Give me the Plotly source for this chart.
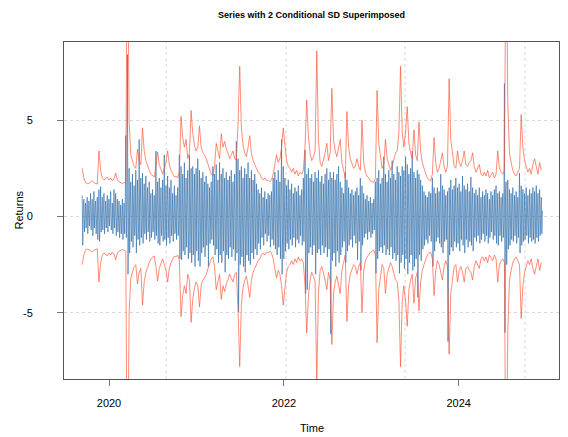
import datetime as dt
import plotly.graph_objects as go

# ---------------- data (weekly) ----------------
start_date = dt.date(2019, 9, 11)

# 2 x conditional SD (upper band; lower band is its mirror)
sd2 = [
    2.5, 2.0, 1.75, 1.7, 1.72, 1.8, 1.85, 1.75, 1.7, 1.68,
    3.4, 2.4, 2.0, 1.9, 1.95, 2.05, 1.9, 2.0, 1.85, 1.95,
    2.25, 1.9, 1.8, 1.75, 1.72, 1.75, 1.8, 16.0, 5.0, 3.2,
    2.9, 2.6, 2.5, 3.5, 2.9, 2.7, 4.6, 3.4, 2.9, 2.6,
    2.4, 2.2, 2.1, 2.05, 2.6, 3.35, 2.7, 2.4, 2.2, 2.5,
    2.8, 3.4, 2.7, 2.4, 2.2, 2.05, 2.1, 2.0, 2.3, 5.2,
    4.1, 3.6, 4.0, 3.0, 3.3, 5.5, 4.3, 3.7, 3.4, 3.6,
    4.7, 3.6, 3.3, 3.2, 3.0, 2.7, 2.4, 2.2, 2.1, 2.6,
    3.8, 3.4, 3.0, 4.3, 3.6, 3.9, 3.5, 3.3, 3.0, 3.2,
    3.4, 3.0, 2.9, 4.8, 7.8, 4.6, 3.7, 3.3, 3.1, 3.6,
    4.2, 3.3, 2.9, 2.7, 2.5, 2.3, 2.2, 2.0, 1.9, 2.0,
    1.85, 1.9, 1.8, 1.9, 2.2, 2.8, 3.2, 2.8, 3.0, 3.6,
    4.6, 3.7, 2.9, 2.6, 2.5, 2.3, 2.5, 2.2, 2.4, 2.1,
    2.3, 2.2, 2.4, 3.6, 6.05, 4.2, 3.3, 2.9, 3.1, 3.4,
    8.6, 4.0, 2.8, 2.6, 2.9, 3.3, 3.8, 2.9, 3.3, 6.65,
    4.0, 3.4, 3.1, 3.6, 4.0, 2.8, 2.3, 2.0, 5.45, 3.6,
    3.0, 2.7, 2.5, 2.6, 3.0, 2.6, 2.4, 5.0, 2.8, 2.3,
    2.1, 2.0, 1.85, 1.8, 1.75, 2.0, 6.55, 3.8, 3.0, 2.5,
    2.7, 4.0, 3.0, 2.7, 2.4, 2.6, 2.9, 3.3, 3.4, 4.3,
    7.8, 4.4, 3.6, 4.4, 5.7, 3.8, 3.3, 3.0, 4.5, 3.2,
    2.9, 4.9, 3.4, 2.8, 2.5, 2.2, 2.0, 1.9, 1.85, 2.2,
    4.1, 2.8, 2.3, 2.5, 2.9, 3.3, 2.6, 2.3, 2.6, 7.15,
    4.0, 3.3, 2.6, 2.5, 3.4, 2.8, 2.6, 2.9, 3.4, 2.7,
    2.6, 2.8, 2.9, 3.3, 2.6, 2.3, 2.5, 2.7, 2.2, 2.1,
    2.3, 2.1, 2.4, 2.0, 2.15, 2.3, 2.0, 2.2, 3.4, 2.5,
    2.3, 2.2, 2.4, 16.0, 6.0, 3.3, 2.8, 2.4, 2.2, 2.1,
    2.3, 2.5, 5.3, 3.6, 2.9, 2.6, 2.3, 2.5, 2.2, 2.7,
    3.0, 2.6, 2.2, 2.8, 2.4,
]

# weekly high / low / typical value of the returns series
ret_hi = [
    1.1, 0.9, 0.7, 1.0, 0.8, 1.2, 0.9, 1.3, 0.8, 1.0,
    1.4, 1.55, 1.0, 1.2, 0.8, 1.1, 0.9, 1.3, 0.7, 1.4,
    1.2, 0.9, 0.8, 0.6, 0.9, 0.7, 4.2, 8.41, 2.5, 1.8,
    2.2, 1.6, 2.4, 1.9, 4.0, 2.0, 2.25, 1.7, 2.1, 1.5,
    1.8, 1.2, 1.4, 1.1, 3.4, 1.8, 2.0, 1.5, 1.9, 3.2,
    1.6, 2.1, 1.5, 1.9, 1.2, 1.6, 1.1, 1.5, 3.2, 2.6,
    2.2, 2.8, 2.0, 2.4, 3.2, 2.5, 2.6, 2.2, 2.5, 3.0,
    2.4, 2.0, 2.3, 1.8, 2.1, 1.7, 1.5, 1.8, 2.6, 2.2,
    2.7, 1.9, 2.8, 2.2, 2.5, 2.0, 2.3, 1.9, 2.1, 2.4,
    1.8, 2.2, 3.9, 3.0, 2.4, 2.6, 2.0, 2.5, 2.2, 2.8,
    2.0, 2.4, 1.9, 2.2, 1.7, 1.4, 1.2, 1.5, 1.0, 1.3,
    0.9, 1.2, 1.1, 1.3, 2.0, 2.3, 1.9, 2.4, 1.8, 4.0,
    2.6, 2.0, 1.6, 1.9, 1.4, 1.7, 1.2, 1.5, 1.3, 1.6,
    1.1, 1.4, 2.0, 3.45, 2.2, 2.5, 2.0, 2.2, 1.8, 2.3,
    2.0, 2.4, 1.8, 2.1, 1.7, 2.2, 2.5, 1.9, 2.3, 2.0,
    2.3, 1.9, 2.2, 2.6, 1.8, 1.5, 1.2, 2.3, 1.9, 1.5,
    1.2, 1.4, 1.1, 1.3, 1.5, 1.1, 2.0, 1.6, 1.2, 0.9,
    1.1, 0.8, 1.0, 0.7, 0.9, 1.8, 2.0, 2.4, 1.7, 2.0,
    3.1, 2.2, 1.8, 2.4, 2.0, 2.9, 2.2, 1.9, 2.6, 2.3,
    2.1, 2.6, 2.4, 3.1, 2.7, 2.2, 2.5, 3.4, 2.3, 2.0,
    2.4, 2.2, 1.9, 1.6, 1.3, 1.1, 1.0, 1.3, 1.2, 2.0,
    1.5, 1.2, 1.5, 1.3, 2.2, 1.6, 1.4, 1.1, 1.3, 1.5,
    1.9, 1.4, 1.6, 2.0, 1.5, 1.7, 1.3, 2.1, 1.6, 1.4,
    1.7, 1.3, 2.05, 1.5, 1.2, 1.4, 1.1, 1.5, 1.0, 1.3,
    1.1, 1.4, 1.2, 0.9, 1.3, 1.1, 1.4, 1.6, 1.2, 1.3,
    1.0, 1.2, 6.9, 1.8, 1.9, 1.4, 1.2, 1.5, 1.1, 1.3,
    1.0, 2.25, 1.6, 1.4, 1.2, 1.5, 1.1, 1.4, 1.2, 1.5,
    1.3, 1.6, 1.2, 1.4, 1.0,
]

ret_lo = [
    -1.5, -0.8, -0.6, -0.9, -0.5, -0.7, -1.0, -0.6, -0.9, -1.2,
    -1.3, -0.8, -0.7, -0.9, -0.6, -0.8, -0.5, -0.7, -0.9, -0.6,
    -1.0, -0.8, -1.1, -0.9, -1.2, -0.9, -1.1, -3.0, -1.9, -1.3,
    -1.6, -1.0, -1.9, -1.2, -1.5, -1.1, -1.4, -0.9, -1.2, -0.8,
    -1.3, -1.1, -0.8, -1.2, -1.0, -1.4, -1.5, -1.0, -1.3, -1.2,
    -1.5, -1.1, -1.4, -1.0, -1.3, -0.9, -1.2, -1.0, -2.2, -2.25,
    -1.8, -2.0, -1.6, -2.2, -1.9, -2.4, -2.0, -2.6, -1.8, -2.3,
    -2.6, -1.9, -1.6, -2.1, -1.5, -2.6, -1.4, -1.2, -1.5, -2.0,
    -1.7, -2.4, -2.0, -2.4, -1.8, -2.9, -2.0, -2.2, -1.6, -2.1,
    -1.7, -2.3, -1.9, -4.95, -2.5, -2.1, -2.6, -2.9, -2.0, -2.3,
    -2.5, -1.9, -2.2, -1.7, -2.0, -1.4, -1.7, -1.1, -1.5, -0.9,
    -1.3, -1.0, -1.6, -1.2, -1.5, -1.7, -2.0, -1.6, -2.2, -3.0,
    -2.2, -1.8, -1.4, -1.7, -1.2, -1.5, -1.1, -1.6, -1.2, -1.4,
    -1.0, -1.5, -1.3, -4.0, -3.8, -1.9, -1.6, -2.0, -1.5, -3.0,
    -1.9, -1.7, -2.0, -1.5, -1.9, -1.6, -2.1, -1.7, -6.1, -2.3,
    -1.9, -2.6, -1.8, -2.4, -2.0, -1.6, -1.3, -2.4, -1.8, -1.5,
    -1.2, -1.6, -1.0, -1.4, -2.25, -1.3, -2.8, -1.5, -1.1, -0.9,
    -1.2, -0.8, -1.1, -0.9, -0.7, -2.95, -2.2, -1.8, -1.6, -1.9,
    -1.5, -2.0, -1.7, -2.0, -1.6, -2.2, -1.9, -2.3, -2.0, -2.95,
    -2.4, -2.0, -2.7, -2.2, -3.0, -2.4, -2.0, -2.8, -2.6, -2.2,
    -4.2, -2.0, -2.3, -1.7, -1.5, -1.2, -1.4, -1.0, -1.3, -2.6,
    -1.8, -1.3, -1.1, -1.4, -1.6, -1.9, -1.3, -1.2, -6.5, -2.0,
    -1.6, -1.8, -1.3, -1.6, -1.4, -1.8, -1.2, -1.5, -1.9, -1.2,
    -1.6, -1.3, -1.5, -1.8, -1.1, -1.3, -1.0, -1.4, -1.2, -0.9,
    -1.3, -1.0, -1.4, -1.1, -0.8, -1.2, -1.0, -1.4, -1.5, -1.0,
    -1.3, -1.1, -6.03, -2.5, -1.7, -1.5, -1.2, -1.3, -1.0, -1.4,
    -1.1, -1.9, -1.5, -1.3, -1.2, -1.0, -1.4, -1.1, -1.3, -1.2,
    -1.4, -1.1, -1.3, -1.0, -0.9,
]

ret_mid = [
    0.3, -0.2, 0.4, -0.3, 0.2, 0.5, -0.4, 0.3, -0.2, 0.4,
    -0.5, 0.3, 0.2, -0.3, 0.4, -0.2, 0.3, -0.4, 0.2, 0.5,
    -0.3, 0.2, -0.4, 0.3, -0.2, 0.4, 0.6, -0.8, 0.7, -0.5,
    0.6, -0.4, 0.5, -0.6, 0.7, -0.3, 0.5, -0.4, 0.6, -0.3,
    0.4, -0.5, 0.3, -0.4, 0.5, -0.3, 0.6, -0.4, 0.3, -0.5,
    0.4, -0.3, 0.5, -0.4, 0.3, -0.5, 0.4, -0.2, 0.7, -0.6,
    0.8, -0.5, 0.6, -0.7, 0.5, -0.8, 0.6, -0.5, 0.7, -0.6,
    0.5, -0.7, 0.6, -0.4, 0.5, -0.6, 0.4, -0.3, 0.6, -0.5,
    0.7, -0.5, 0.6, -0.8, 0.5, -0.6, 0.7, -0.4, 0.5, -0.6,
    0.4, -0.6, 0.8, -0.9, 0.6, -0.7, 0.5, -0.8, 0.6, -0.5,
    0.7, -0.5, 0.6, -0.4, 0.5, -0.3, 0.4, -0.3, 0.2, -0.4,
    0.3, -0.2, 0.4, -0.3, 0.5, -0.6, 0.4, -0.5, 0.6, -0.8,
    0.7, -0.5, 0.4, -0.5, 0.3, -0.4, 0.3, -0.4, 0.3, -0.5,
    0.3, -0.4, 0.5, -0.9, 0.8, -0.6, 0.5, -0.6, 0.4, -0.7,
    0.6, -0.5, 0.6, -0.4, 0.5, -0.5, 0.7, -0.4, 0.9, -0.6,
    0.5, -0.7, 0.6, -0.5, 0.6, -0.4, 0.3, -0.6, 0.5, -0.4,
    0.3, -0.4, 0.3, -0.3, 0.5, -0.3, 0.6, -0.4, 0.3, -0.2,
    0.3, -0.2, 0.3, -0.2, 0.2, -0.7, 0.6, -0.5, 0.4, -0.5,
    0.7, -0.5, 0.4, -0.6, 0.5, -0.7, 0.5, -0.6, 0.7, -0.8,
    0.6, -0.5, 0.7, -0.8, 0.7, -0.6, 0.5, -0.9, 0.6, -0.5,
    0.8, -0.5, 0.6, -0.4, 0.3, -0.3, 0.2, -0.3, 0.3, -0.6,
    0.4, -0.3, 0.4, -0.3, 0.5, -0.4, 0.3, -0.3, 0.9, -0.5,
    0.4, -0.4, 0.3, -0.5, 0.4, -0.4, 0.3, -0.5, 0.4, -0.3,
    0.4, -0.3, 0.5, -0.4, 0.3, -0.3, 0.2, -0.4, 0.3, -0.2,
    0.3, -0.3, 0.2, -0.3, 0.3, -0.2, 0.4, -0.3, 0.3, -0.4,
    0.3, -0.2, 1.2, -0.6, 0.5, -0.4, 0.3, -0.3, 0.2, -0.4,
    0.3, -0.5, 0.4, -0.3, 0.3, -0.2, 0.4, -0.3, 0.3, -0.4,
    0.3, -0.3, 0.4, -0.2, 0.3,
]

x_tick_dates = ["2020-01-01", "2022-01-01", "2024-01-01"]
x_tick_labels = ["2020", "2022", "2024"]
y_tick_vals = [-5, 0, 5]
y_tick_labels = ["-5", "0", "5"]
v_grid_dates = ["2020-08-27", "2022-01-10", "2023-05-22", "2024-10-04"]

# ---------------- build series ----------------
weeks = [dt.datetime(start_date.year, start_date.month, start_date.day) + dt.timedelta(days=7 * i)
         for i in range(len(sd2))]
ret_x, ret_y = [], []
for d, h, l, m in zip(weeks, ret_hi, ret_lo, ret_mid):
    ret_x += [d, d + dt.timedelta(days=2, hours=8), d + dt.timedelta(days=4, hours=16)]
    ret_y += [h, l, m]
upper = sd2
lower = [-v for v in sd2]

FONT = "Liberation Sans, Arial, sans-serif"
RED = "rgba(255,85,55,0.85)"
fig = go.Figure()
fig.add_trace(go.Scatter(x=ret_x, y=ret_y, mode="lines",
                         line=dict(color="rgba(45,108,168,0.85)", width=0.75),
                         hoverinfo="skip", showlegend=False))
fig.add_trace(go.Scatter(x=weeks, y=upper, mode="lines",
                         line=dict(color=RED, width=0.8),
                         hoverinfo="skip", showlegend=False))
fig.add_trace(go.Scatter(x=weeks, y=lower, mode="lines",
                         line=dict(color=RED, width=0.8),
                         hoverinfo="skip", showlegend=False))

for g in v_grid_dates:
    fig.add_shape(type="line", xref="x", yref="paper", x0=g, x1=g, y0=0, y1=1,
                  line=dict(color="#d9d9d9", width=1, dash="dot"), layer="below")

fig.update_layout(
    width=568, height=437,
    margin=dict(l=64, r=9, t=42, b=58, autoexpand=False),
    paper_bgcolor="white", plot_bgcolor="white",
    font=dict(family=FONT, size=11, color="black"),
    showlegend=False,
    xaxis=dict(type="date", range=["2019-06-27", "2025-02-23"], automargin=False,
               tickvals=x_tick_dates, ticktext=x_tick_labels,
               ticks="outside", ticklen=6, tickcolor="#777",
               showgrid=False, zeroline=False,
               showline=True, mirror=True, linecolor="#555", linewidth=1,
               ticklabelstandoff=8, tickfont=dict(size=11)),
    yaxis=dict(range=[-8.44, 9.06], automargin=False,
               tickvals=y_tick_vals, ticktext=y_tick_labels,
               ticks="outside", ticklen=6, tickcolor="#777",
               showgrid=True, gridcolor="#d9d9d9", griddash="dot", gridwidth=1,
               zeroline=False,
               showline=True, mirror=True, linecolor="#555", linewidth=1,
               ticklabelstandoff=22, tickfont=dict(size=11)),
    annotations=[
        dict(text="<b>Series with 2 Conditional SD Superimposed</b>", xref="paper", yref="paper",
             x=0.5, y=1, yshift=27, xanchor="center", yanchor="middle", showarrow=False,
             font=dict(size=9, family=FONT)),
        dict(text="Time", xref="paper", yref="paper", x=0.5, y=0, yshift=-49,
             xanchor="center", yanchor="middle", showarrow=False, font=dict(size=11, family=FONT)),
        dict(text="Returns", xref="paper", yref="paper", x=0, xshift=-46, y=0.5,
             xanchor="center", yanchor="middle", textangle=-90, showarrow=False,
             font=dict(size=11, family=FONT)),
    ],
)

fig.write_html("out.html", config={"displayModeBar": False},
               post_script="document.body.style.margin='0';")
